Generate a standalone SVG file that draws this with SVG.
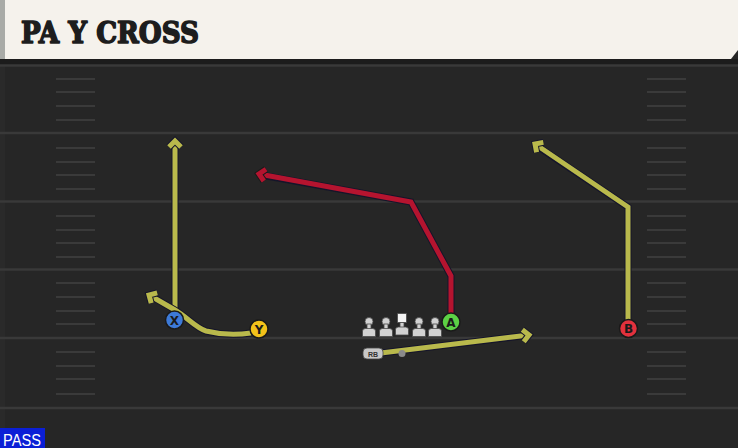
<svg xmlns="http://www.w3.org/2000/svg" width="738" height="448" viewBox="0 0 738 448">
<defs>
<style>
.yard{stroke:#393939;stroke-width:2.5}
.hash{stroke:#3a3a3a;stroke-width:2}
.out{fill:none;stroke:#15152a;stroke-width:7;stroke-linejoin:miter;stroke-linecap:butt}
.ry{fill:none;stroke:#b9b94c;stroke-width:5;stroke-linejoin:miter;stroke-linecap:butt}
.rr{fill:none;stroke:#b5142f;stroke-width:5;stroke-linejoin:miter;stroke-linecap:butt}
.pl{stroke:#1a1a1a;stroke-width:1.5}
.lt{font-family:"DejaVu Sans",sans-serif;font-weight:bold;font-size:12px;fill:#1a1a1a;text-anchor:middle}
.ol{fill:#d2d2d2;stroke:#4a4a4a;stroke-width:0.8}
</style>
<marker id="ay" viewBox="-10 -10 20 20" refX="0" refY="0" markerWidth="20" markerHeight="20" markerUnits="userSpaceOnUse" orient="auto" overflow="visible">
<path d="M-6,-6 L0,0 L-6,6" fill="none" stroke="#15152a" stroke-width="7" stroke-linejoin="miter"/>
<path d="M-6,-6 L0,0 L-6,6" fill="none" stroke="#b9b94c" stroke-width="5" stroke-linejoin="miter"/>
</marker>
<marker id="ar" viewBox="-10 -10 20 20" refX="0" refY="0" markerWidth="20" markerHeight="20" markerUnits="userSpaceOnUse" orient="auto" overflow="visible">
<path d="M-6,-6 L0,0 L-6,6" fill="none" stroke="#1a1a1a" stroke-width="7" stroke-linejoin="miter"/>
<path d="M-6,-6 L0,0 L-6,6" fill="none" stroke="#b5142f" stroke-width="5" stroke-linejoin="miter"/>
</marker>
</defs>
<rect x="0" y="0" width="738" height="448" fill="#262626"/>
<rect x="0" y="59" width="738" height="6" fill="#1c1c1c"/>
<rect x="0" y="65" width="5" height="383" fill="#2a2a2a"/>
<g id="field">
<line class="yard" x1="0" y1="65.5" x2="738" y2="65.5"/>
<line class="yard" x1="0" y1="133" x2="738" y2="133"/>
<line class="yard" x1="0" y1="201.5" x2="738" y2="201.5"/>
<line class="yard" x1="0" y1="269.5" x2="738" y2="269.5"/>
<line class="yard" x1="0" y1="338" x2="738" y2="338"/>
<line class="yard" x1="0" y1="408" x2="738" y2="408"/>
<g class="hash">
<line x1="56" y1="79" x2="95" y2="79"/><line x1="56" y1="92" x2="95" y2="92"/><line x1="56" y1="106" x2="95" y2="106"/><line x1="56" y1="120" x2="95" y2="120"/>
<line x1="56" y1="148" x2="95" y2="148"/><line x1="56" y1="162" x2="95" y2="162"/><line x1="56" y1="175" x2="95" y2="175"/><line x1="56" y1="189" x2="95" y2="189"/>
<line x1="56" y1="216" x2="95" y2="216"/><line x1="56" y1="230" x2="95" y2="230"/><line x1="56" y1="243" x2="95" y2="243"/><line x1="56" y1="257" x2="95" y2="257"/>
<line x1="56" y1="283" x2="95" y2="283"/><line x1="56" y1="297" x2="95" y2="297"/><line x1="56" y1="311" x2="95" y2="311"/><line x1="56" y1="324" x2="95" y2="324"/>
<line x1="56" y1="352" x2="95" y2="352"/><line x1="56" y1="366" x2="95" y2="366"/><line x1="56" y1="379" x2="95" y2="379"/><line x1="56" y1="394" x2="95" y2="394"/>
<line x1="647" y1="79" x2="686" y2="79"/><line x1="647" y1="92" x2="686" y2="92"/><line x1="647" y1="106" x2="686" y2="106"/><line x1="647" y1="120" x2="686" y2="120"/>
<line x1="647" y1="148" x2="686" y2="148"/><line x1="647" y1="162" x2="686" y2="162"/><line x1="647" y1="175" x2="686" y2="175"/><line x1="647" y1="189" x2="686" y2="189"/>
<line x1="647" y1="216" x2="686" y2="216"/><line x1="647" y1="230" x2="686" y2="230"/><line x1="647" y1="243" x2="686" y2="243"/><line x1="647" y1="257" x2="686" y2="257"/>
<line x1="647" y1="283" x2="686" y2="283"/><line x1="647" y1="297" x2="686" y2="297"/><line x1="647" y1="311" x2="686" y2="311"/><line x1="647" y1="324" x2="686" y2="324"/>
<line x1="647" y1="352" x2="686" y2="352"/><line x1="647" y1="366" x2="686" y2="366"/><line x1="647" y1="379" x2="686" y2="379"/><line x1="647" y1="394" x2="686" y2="394"/>
</g>
</g>
<g id="header">
<path d="M0,0 H738 V50 L731,59 H0 Z" fill="#f5f2ec"/>
<rect x="0" y="0" width="5" height="59" fill="#a9aba7"/>
<text x="21" y="43" font-family="'DejaVu Serif',serif" font-weight="bold" font-size="29" fill="#1d1d1d" stroke="#1d1d1d" stroke-width="1.6" stroke-linejoin="round" textLength="178" lengthAdjust="spacingAndGlyphs">PA Y CROSS</text>
</g>
<g id="connectors">
<path class="out" d="M175,318 V143"/>
<path class="ry" d="M175,318 V141" marker-end="url(#ay)"/>
<path class="out" d="M251,333 C238,335 222,335 206,331 C196,328 188,318 175,310 L151,296"/>
<path class="ry" d="M251,333 C238,335 222,335 206,331 C196,328 188,318 175,310 L149,295" marker-end="url(#ay)"/>
<path class="out" d="M451,314 V276 L411,202 L261,175"/>
<path class="rr" d="M451,314 V276 L411,202 L259,174" marker-end="url(#ar)"/>
<path class="out" d="M628,320 V207 L537,146"/>
<path class="ry" d="M628,320 V207 L535,144" marker-end="url(#ay)"/>
<path class="out" d="M381,353 L527,335.3"/>
<path class="ry" d="M381,353 L529,335" marker-end="url(#ay)"/>
</g>
<g id="line">
<g id="lt1"><circle class="ol" cx="369" cy="321.5" r="4"/><rect class="ol" x="367" y="324" width="4" height="6"/><path class="ol" d="M362.5,336.5 V331 Q362.5,328.5 365.5,328.5 H372.5 Q375.5,328.5 375.5,331 V336.5 Z"/></g>
<g id="lt2"><circle class="ol" cx="386" cy="321.5" r="4"/><rect class="ol" x="384" y="324" width="4" height="6"/><path class="ol" d="M379.5,336.5 V331 Q379.5,328.5 382.5,328.5 H389.5 Q392.5,328.5 392.5,331 V336.5 Z"/></g>
<g id="ctr"><rect x="397.5" y="313.5" width="9" height="9" fill="#f4f4f4" stroke="#4a4a4a" stroke-width="0.8"/><rect class="ol" x="400" y="322.5" width="4" height="6"/><path class="ol" d="M395.5,335 V329.5 Q395.5,327 398.5,327 H405.5 Q408.5,327 408.5,329.5 V335 Z"/></g>
<g id="lt3"><circle class="ol" cx="419" cy="321.5" r="4"/><rect class="ol" x="417" y="324" width="4" height="6"/><path class="ol" d="M412.5,336.5 V331 Q412.5,328.5 415.5,328.5 H422.5 Q425.5,328.5 425.5,331 V336.5 Z"/></g>
<g id="lt4"><circle class="ol" cx="435" cy="321.5" r="4"/><rect class="ol" x="433" y="324" width="4" height="6"/><path class="ol" d="M428.5,336.5 V331 Q428.5,328.5 431.5,328.5 H438.5 Q441.5,328.5 441.5,331 V336.5 Z"/></g>
</g>
<g id="rb">
<rect x="363" y="348" width="20" height="11" rx="4" fill="#c8c8c8" stroke="#444" stroke-width="0.8"/>
<text x="373" y="356.5" font-family="'Liberation Sans',sans-serif" font-size="7" font-weight="bold" fill="#333" text-anchor="middle">RB</text>
<circle cx="402" cy="353.5" r="3.5" fill="#8a8a8a"/>
</g>
<g id="X"><circle class="pl" cx="174.5" cy="320" r="9" fill="#3d7ad8"/><text class="lt" x="174.5" y="324.5">X</text></g>
<g id="Y"><circle class="pl" cx="259" cy="329" r="9" fill="#f3c21a"/><text class="lt" x="259" y="333.5">Y</text></g>
<g id="A"><circle class="pl" cx="451" cy="322" r="9" fill="#5cd145"/><text class="lt" x="451" y="326.5">A</text></g>
<g id="B"><circle class="pl" cx="628.5" cy="328.5" r="9" fill="#e3313d"/><text class="lt" x="628.5" y="333">B</text></g>
<g id="pass">
<rect x="0" y="428" width="45" height="20" fill="#0b1fd6"/>
<text x="3" y="445.5" font-family="'Liberation Sans',sans-serif" font-size="16" fill="#ffffff" textLength="38" lengthAdjust="spacingAndGlyphs">PASS</text>
</g>
</svg>
